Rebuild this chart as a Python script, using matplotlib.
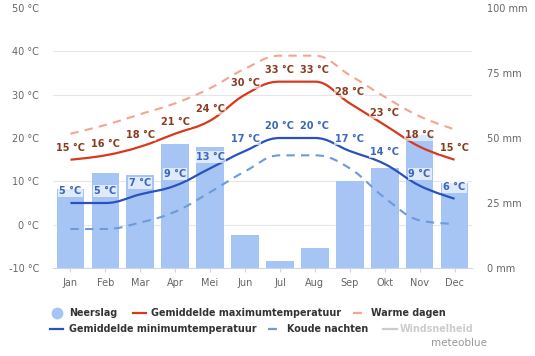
import numpy as np
import matplotlib
matplotlib.use("Agg")
import matplotlib.pyplot as plt
from matplotlib.path import Path
from matplotlib.patches import PathPatch
from matplotlib.lines import Line2D

# data
months = ['Jan', 'Feb', 'Mar', 'Apr', 'Mei', 'Jun', 'Jul', 'Aug', 'Sep', 'Okt', 'Nov', 'Dec']
neerslag = [30.4, 36.7, 35.8, 47.7, 46.7, 12.7, 2.8, 7.6, 33.6, 38.3, 51.2, 32.8]
max_temp = [15, 16, 18, 21, 24, 30, 33, 33, 28, 23, 18, 15]
min_temp = [5, 5, 7, 9, 13, 17, 20, 20, 17, 14, 9, 6]
warme_dagen = [21, 23, 25.5, 28, 31.5, 36, 39, 39, 34.5, 29.5, 25, 22]
koude_nachten = [-1, -1, 0.5, 3, 7.5, 12.3, 16, 16, 13, 6.2, 1, 0.2]

temp_ticks = [-10, 0, 10, 20, 30, 40, 50]
mm_ticks = [0, 25, 50, 75, 100]

c_bar = '#a6c5f5'
c_max = '#d8391c'
c_max_lbl = '#8a3b1e'
c_min = '#2a52be'
c_min_lbl = '#3a66bb'
c_warm = '#f4a58f'
c_cold = '#6b9bd8'
c_tick = '#666666'


def spline_path(xs, ys, smoothing=1.5):
    # highcharts-like spline as bezier control points
    n = len(xs)
    lc = [(xs[i], ys[i]) for i in range(n)]
    rc = [(xs[i], ys[i]) for i in range(n)]
    for i in range(1, n - 1):
        px, py = xs[i - 1], ys[i - 1]
        x, y = xs[i], ys[i]
        nx, ny = xs[i + 1], ys[i + 1]
        lx = (smoothing * x + px) / (smoothing + 1)
        ly = (smoothing * y + py) / (smoothing + 1)
        rx = (smoothing * x + nx) / (smoothing + 1)
        ry = (smoothing * y + ny) / (smoothing + 1)
        corr = (ry - ly) * (rx - x) / (rx - lx) + y - ry
        ly += corr
        ry += corr
        if ly > py and ly > y:
            ly = max(py, y)
            ry = 2 * y - ly
        elif ly < py and ly < y:
            ly = min(py, y)
            ry = 2 * y - ly
        if ry > ny and ry > y:
            ry = max(ny, y)
            ly = 2 * y - ry
        elif ry < ny and ry < y:
            ry = min(ny, y)
            ly = 2 * y - ry
        lc[i] = (lx, ly)
        rc[i] = (rx, ry)
    verts = [(xs[0], ys[0])]
    codes = [Path.MOVETO]
    for i in range(1, n):
        verts += [rc[i - 1], lc[i], (xs[i], ys[i])]
        codes += [Path.CURVE4] * 3
    return Path(verts, codes)


x = np.arange(len(months))

fig = plt.figure(figsize=(5.35, 3.56), dpi=100)
ax2 = fig.add_axes([53 / 535, 1 - 268 / 356, 419 / 535, 260 / 356])
ax = ax2.twinx()
ax.set_zorder(ax2.get_zorder() + 1)
ax.patch.set_visible(False)

# precipitation bars
ax2.bar(x, neerslag, width=0.79, color=c_bar, zorder=2)
ax2.set_ylim(0, 100)
ax2.set_xlim(-0.5, 11.5)
ax2.set_yticks(mm_ticks)
ax2.set_yticklabels([f'{v} mm' for v in mm_ticks])
ax2.yaxis.tick_right()
ax2.set_yticks(np.linspace(0, 100, 7), minor=True)
ax2.grid(True, which='minor', axis='y', color='#e6e6e6', lw=0.8, zorder=0)
ax2.set_axisbelow(True)
ax2.tick_params(axis='y', which='both', length=0, colors=c_tick, labelsize=7, pad=11)
ax2.set_xticks(x)
ax2.set_xticklabels(months)
ax2.tick_params(axis='x', length=3, color='#ccd6eb', colors=c_tick, labelsize=7, pad=4)
for s in ['top', 'left', 'right']:
    ax2.spines[s].set_visible(False)
ax2.spines['bottom'].set_color('#ccd6eb')

# temperature lines
ax.set_ylim(-10, 50)
ax.yaxis.tick_left()
ax.set_yticks(temp_ticks)
ax.set_yticklabels([f'{v} °C' for v in temp_ticks])
ax.tick_params(axis='y', length=0, colors=c_tick, labelsize=7, pad=10)
for s in ax.spines.values():
    s.set_visible(False)

ax.add_patch(PathPatch(spline_path(x, warme_dagen), fill=False, ec=c_warm, lw=1.5,
                       ls=(0, (4, 3)), zorder=3))
ax.add_patch(PathPatch(spline_path(x, koude_nachten), fill=False, ec=c_cold, lw=1.5,
                       ls=(0, (4, 3)), zorder=3))
ax.add_patch(PathPatch(spline_path(x, max_temp), fill=False, ec=c_max, lw=1.6, zorder=4))
ax.add_patch(PathPatch(spline_path(x, min_temp), fill=False, ec=c_min, lw=1.6, zorder=4))

for xi, v in zip(x, max_temp):
    ax.annotate(f'{v} °C', (xi, v), xytext=(0, 8.5), textcoords='offset points',
                ha='center', va='center', fontsize=7, fontweight='bold', color=c_max_lbl,
                zorder=5,
                bbox=dict(boxstyle='square,pad=0.1', fc='white', ec='none', alpha=0.6))
for xi, v in zip(x, min_temp):
    ax.annotate(f'{v} °C', (xi, v), xytext=(0, 8.5), textcoords='offset points',
                ha='center', va='center', fontsize=7, fontweight='bold', color=c_min_lbl,
                zorder=5,
                bbox=dict(boxstyle='square,pad=0.1', fc='white', ec='none', alpha=0.65))


# legend drawn by hand (two rows, uneven columns)
def fx(px):
    return px / 535


def fy(py):
    return 1 - py / 356


def leg_line(x0, x1, yy, color, ls='-'):
    fig.add_artist(Line2D([fx(x0), fx(x1)], [fy(yy), fy(yy)], color=color, lw=1.6,
                          ls=ls, transform=fig.transFigure))


def leg_text(x0, yy, s, color='#333333'):
    fig.text(fx(x0), fy(yy), s, fontsize=6.9, fontweight='bold', color=color,
             ha='left', va='center')


fig.add_artist(Line2D([fx(57)], [fy(313)], marker='o', ms=7.5, color=c_bar, lw=0,
                      transform=fig.transFigure))
leg_text(69, 313, 'Neerslag')
leg_line(133, 146, 313, c_max)
leg_text(151, 313, 'Gemiddelde maximumtemperatuur')
leg_line(353, 367, 313, c_warm, (0, (4, 3)))
leg_text(371, 313, 'Warme dagen')
leg_line(50, 63, 329, c_min)
leg_text(69, 329, 'Gemiddelde minimumtemperatuur')
leg_line(268, 283, 329, c_cold, (0, (4, 3)))
leg_text(287, 329, 'Koude nachten')
leg_line(383, 397, 329, '#cccccc')
leg_text(400, 329, 'Windsnelheid', color='#cccccc')
fig.text(fx(487), fy(343), 'meteoblue', fontsize=7.5, color='#999999', ha='right', va='center')

fig.savefig('out.png', dpi=100)
